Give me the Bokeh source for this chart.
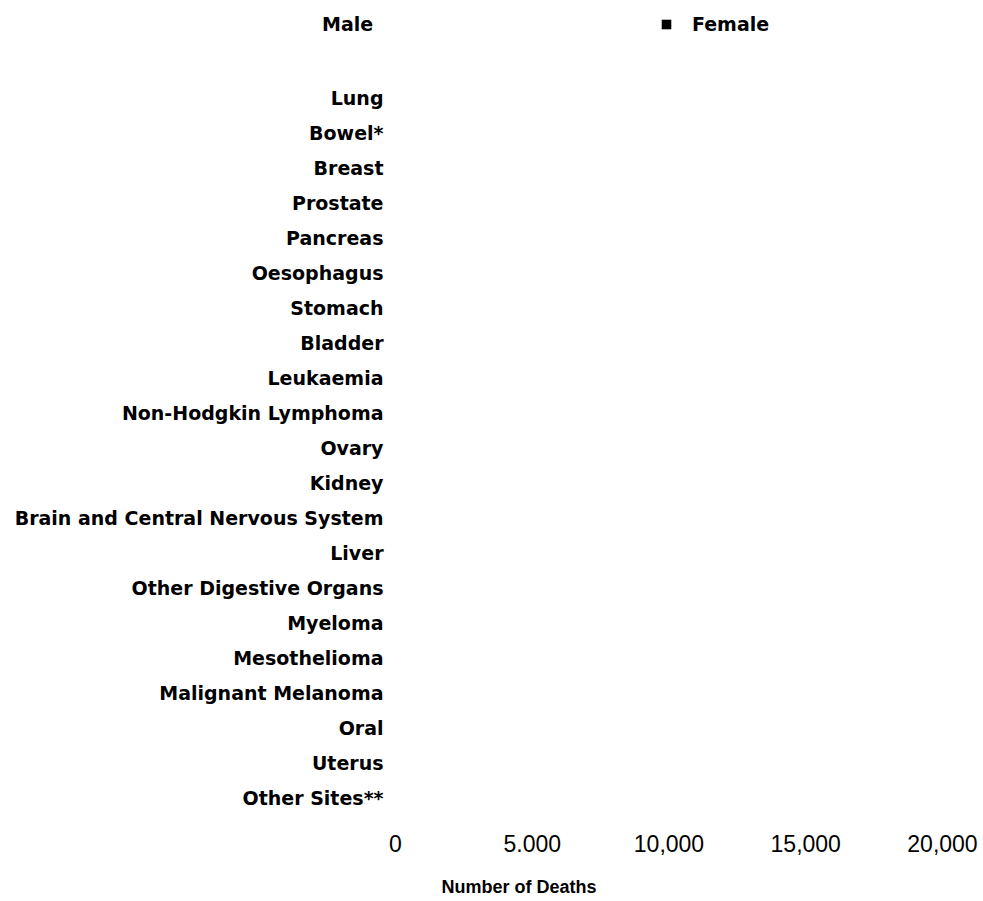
from bokeh.plotting import figure
from bokeh.models import (Range1d, Legend, LegendItem, Title, FixedTicker,
                          ColumnDataSource, LinearAxis)
from bokeh.core.properties import value
from bokeh.embed import file_html
from bokeh.resources import INLINE

categories = ["Lung", "Bowel*", "Breast", "Prostate", "Pancreas", "Oesophagus",
              "Stomach", "Bladder", "Leukaemia", "Non-Hodgkin Lymphoma", "Ovary",
              "Kidney", "Brain and Central Nervous System", "Liver",
              "Other Digestive Organs", "Myeloma", "Mesothelioma",
              "Malignant Melanoma", "Oral", "Uterus", "Other Sites**"]
# No bars are visible in the reference picture: every value reads as zero.
male_deaths = [0, 0, 0, 0, 0, 0, 0, 0, 0, 0, 0, 0, 0, 0, 0, 0, 0, 0, 0, 0, 0]
female_deaths = [0, 0, 0, 0, 0, 0, 0, 0, 0, 0, 0, 0, 0, 0, 0, 0, 0, 0, 0, 0, 0]
tick_values = [0, 5000, 10000, 15000, 20000]
tick_labels = ["0", "5.000", "10,000", "15,000", "20,000"]
series_names = ["Male", "Female"]
axis_title = "Number of Deaths"

BOLD_FONT = "DejaVu Sans"
TICK_FONT = "Liberation Sans"

n = len(categories)
row = [n - 1 - i for i in range(n)]  # first category at the top

# layout (pixels)
W, H = 980, 901
FRAME_RIGHT = 942          # pixel position of 20,000
ZERO_PX = 395              # pixel position of 0
FRAME_BOTTOM = 815
ROW_PX = 35
FIRST_ROW_PX = 97

x_max = tick_values[-1]
x_min = -ZERO_PX * x_max / (FRAME_RIGHT - ZERO_PX)
y_top = (n - 1) + FIRST_ROW_PX / ROW_PX
y_bottom = y_top - FRAME_BOTTOM / ROW_PX

p = figure(width=W, height=H, output_backend="svg", toolbar_location=None,
           x_range=Range1d(x_min, x_max), y_range=Range1d(y_bottom, y_top),
           min_border_left=0, min_border_right=W - FRAME_RIGHT,
           min_border_top=0, min_border_bottom=H - FRAME_BOTTOM)

src = ColumnDataSource(dict(row=row, cat=categories, male=male_deaths,
                            female=female_deaths,
                            row_m=[r + 0.17 for r in row],
                            row_f=[r - 0.17 for r in row]))
r_m = p.hbar(y="row_m", left=0, right="male", height=0.32, source=src,
             fill_color="white", line_color=None)
r_f = p.hbar(y="row_f", left=0, right="female", height=0.32, source=src,
             fill_color="black", line_color=None)

# category labels, right-aligned just left of the zero line
p.text(x=0, y="row", text="cat", source=src, x_offset=-12,
       text_align="right", text_baseline="middle",
       text_font=value(BOLD_FONT), text_font_size="19px",
       text_font_style="bold", text_color="black")

p.yaxis.visible = False
p.xaxis.ticker = FixedTicker(ticks=tick_values)
p.xaxis.major_label_overrides = {v: t for v, t in zip(tick_values, tick_labels)}
p.xaxis.axis_line_color = None
p.xaxis.major_tick_line_color = None
p.xaxis.minor_tick_line_color = None
p.xaxis.major_tick_out = 0
p.xaxis.major_tick_in = 0
p.xaxis.minor_tick_out = 0
p.xaxis.major_label_text_font = TICK_FONT
p.xaxis.major_label_text_font_size = "23px"
p.xaxis.major_label_text_color = "black"
p.xaxis.major_label_standoff = 19

# invisible spacer axis between the tick labels and the axis title
spacer = LinearAxis(ticker=FixedTicker(ticks=tick_values[:1]), axis_line_color=None,
                    major_tick_line_color=None, minor_tick_line_color=None,
                    major_tick_in=0, major_tick_out=20, minor_tick_out=0,
                    major_label_standoff=0, major_label_text_color=None,
                    major_label_text_font_size="1px")
p.add_layout(spacer, "below")

p.xgrid.grid_line_color = None
p.ygrid.grid_line_color = None
p.outline_line_color = None

legend = Legend(items=[LegendItem(label=series_names[0], renderers=[r_m]),
                       LegendItem(label=series_names[1], renderers=[r_f])],
                orientation="horizontal", location=(290, 780),
                glyph_width=12, glyph_height=12, label_height=20,
                label_width=300, spacing=38, label_standoff=20,
                padding=0, margin=0, border_line_color=None,
                background_fill_alpha=0,
                label_text_font=BOLD_FONT, label_text_font_size="19px",
                label_text_font_style="bold", label_text_color="black")
p.add_layout(legend, "center")

p.add_layout(Title(text=axis_title, align="left", offset=441,
                   vertical_align="bottom",
                   text_font=TICK_FONT, text_font_size="18px",
                   text_font_style="bold", text_color="black", standoff=0),
             "below")

open("out.html", "w").write(file_html(p, INLINE))
